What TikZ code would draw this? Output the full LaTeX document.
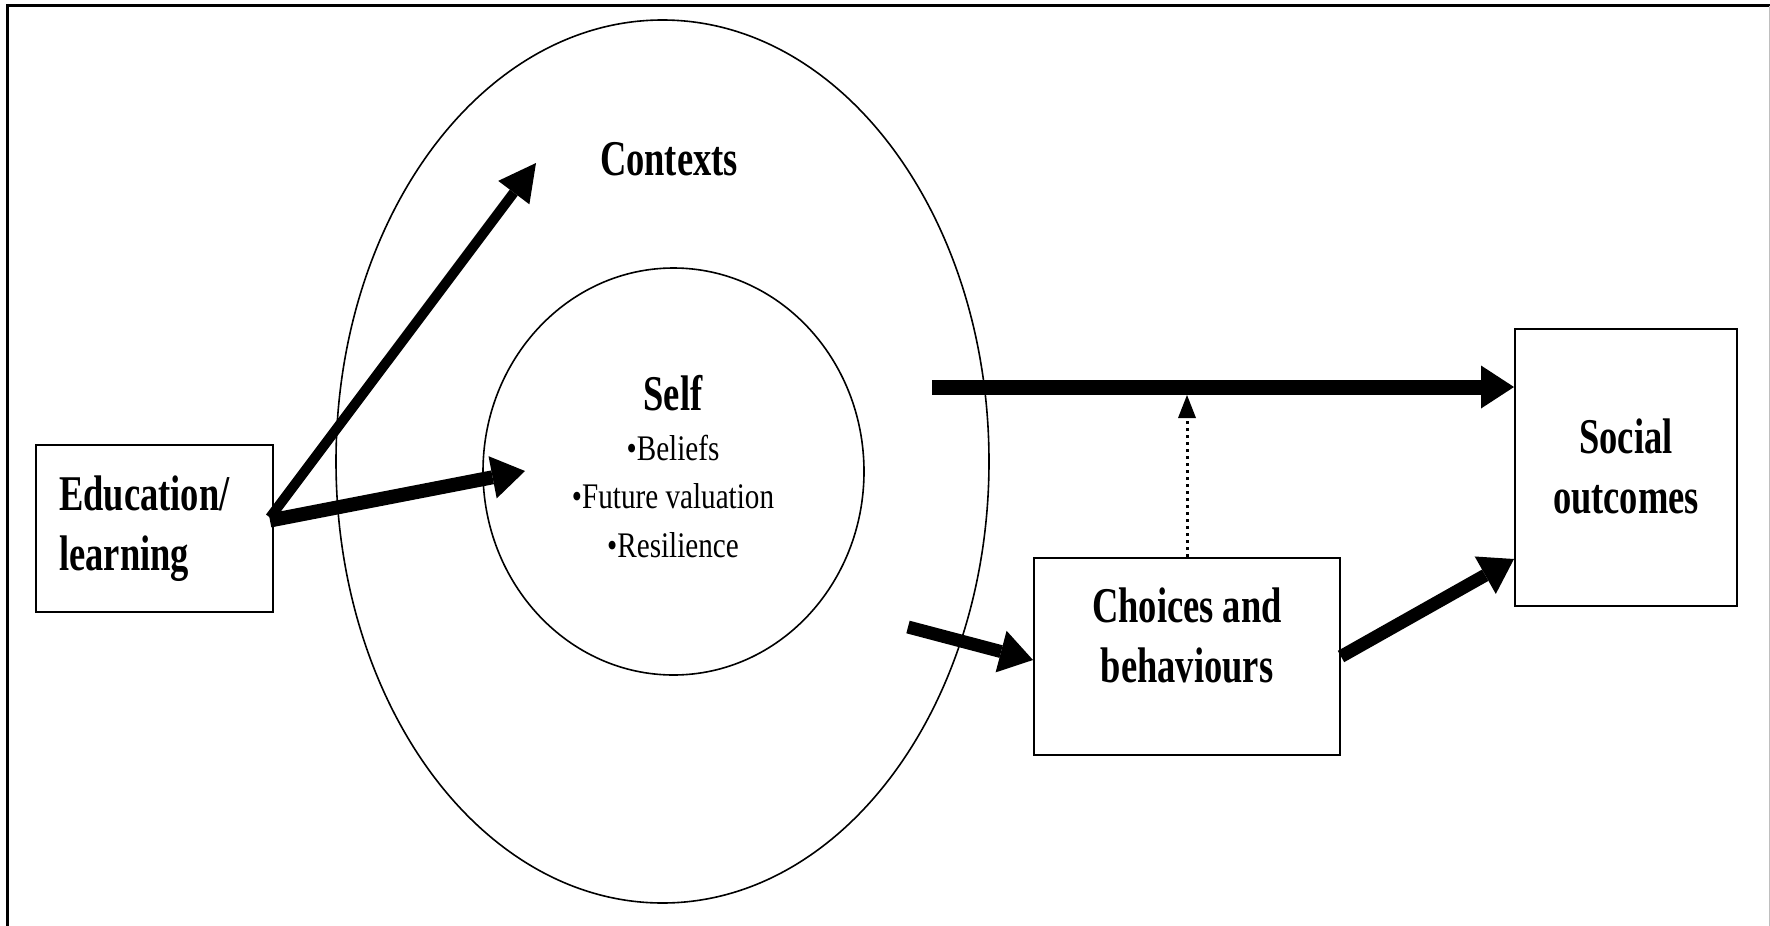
\documentclass[tikz,border=0pt]{standalone}
\usepackage{fontspec}
\setmainfont{Liberation Serif}
\newfontfamily\headfont[FakeStretch=0.73]{Liberation Serif}
\newfontfamily\bodyfont[FakeStretch=0.81]{Liberation Serif}
\usetikzlibrary{arrows.meta,shapes.geometric}
\begin{document}
\begin{tikzpicture}[x=1pt,y=-1pt,
  boxnode/.style={draw, line width=2pt, rectangle, inner sep=0pt},
  ringnode/.style={draw, line width=1.6pt, ellipse, inner sep=0pt},
  headtext/.style={font=\headfont\bfseries\fontsize{50}{60}\selectfont, inner sep=0pt},
  bodytext/.style={font=\bodyfont\fontsize{36}{44}\selectfont, inner sep=0pt},
  thickarrow/.style={line width=#1, -{Triangle[length=33pt,width=43pt,line width=0pt]}},
  dotarrow/.style={line width=3pt, dash pattern=on 3.5pt off 3.5pt, -{Triangle[length=23pt,width=18pt,line width=0pt]}}
]
\useasboundingbox (0,0) rectangle (1770,926);
\fill[white] (0,0) rectangle (1770,926);
% frame
\draw[line width=2.5pt] (7.5,926) -- (7.5,5.5) -- (1770,5.5);
\draw[black!25, line width=1pt] (1769.5,5.5) -- (1769.5,926);

% ellipses
\node[ringnode, minimum width=653pt, minimum height=883pt] (ctx) at (662.5,461.5) {};
\node[ringnode, minimum width=381pt, minimum height=407pt] (self) at (673.5,471.5) {};

% boxes
\node[boxnode, minimum width=237pt, minimum height=167pt] (edu) at (154.5,528.5) {};
\node[boxnode, minimum width=306pt, minimum height=197pt] (choices) at (1187,656.5) {};
\node[boxnode, minimum width=222pt, minimum height=277pt] (social) at (1626,467.5) {};

% texts
\node[headtext, anchor=base] (ctxlabel) at (669,175) {Contexts};
\node[headtext, anchor=base] (selflabel) at (673,410) {Self};
\node[bodytext, anchor=base] (beliefs) at (673,460) {•Beliefs};
\node[bodytext, anchor=base] (future) at (673,508) {•Future valuation};
\node[bodytext, anchor=base] (resil) at (673,557) {•Resilience};
\node[headtext, anchor=base west] (edu1) at (59,510) {Education/};
\node[headtext, anchor=base west] (edu2) at (59,570) {learning};
\node[headtext, anchor=base] (soc1) at (1626,453) {Social};
\node[headtext, anchor=base] (soc2) at (1626,513) {outcomes};
\node[headtext, anchor=base] (cho1) at (1187,622) {Choices and};
\node[headtext, anchor=base] (cho2) at (1187,682) {behaviours};

% free ends
\coordinate (ctxtip) at (536,163);
\coordinate (selftip) at (525,471);
\coordinate (topstart) at (932,387);
\coordinate (midstart) at (908,627);
\coordinate (dotend) at (1187,395);

% connectors
\draw[thickarrow=10pt, -{Triangle[length=37pt,width=39pt,line width=0pt]}] ([xshift=-4pt,yshift=11pt]edu.east) -- (ctxtip);
\draw[thickarrow=14pt] ([xshift=-4pt,yshift=8pt]edu.east) -- (selftip);
\draw[thickarrow=15pt] (topstart) -- ([yshift=80.5pt]social.west);
\draw[thickarrow=13pt] (midstart) -- ([yshift=-3.5pt]choices.west);
\draw[thickarrow=13pt] (choices.east) -- ([yshift=48pt]social.south west);
\draw[dotarrow] (choices.north) -- (dotend);
\end{tikzpicture}
\end{document}
